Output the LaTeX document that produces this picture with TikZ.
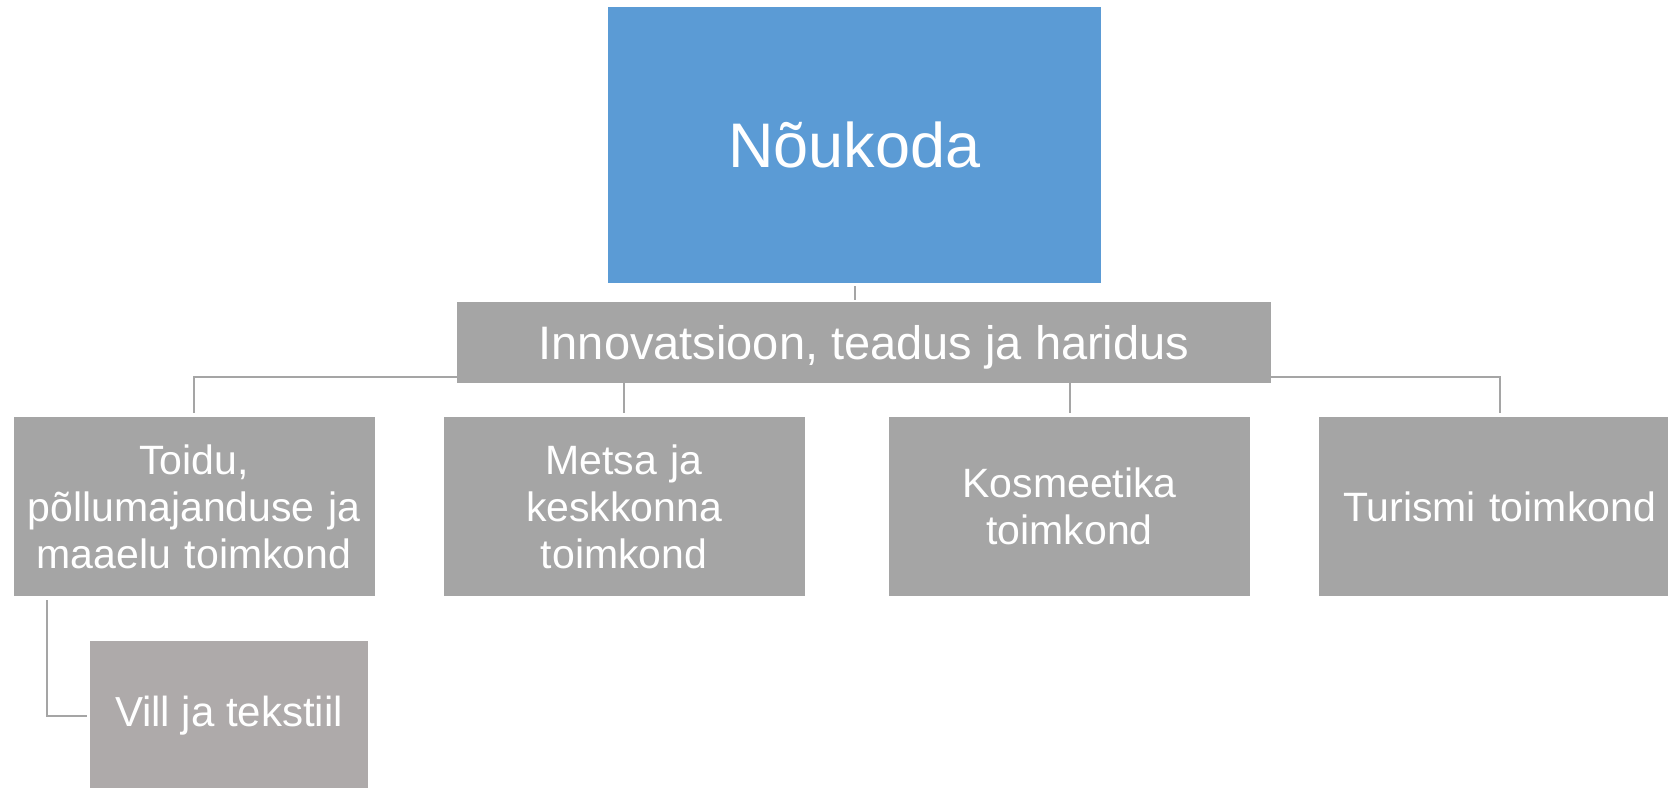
\documentclass[tikz,border=0pt]{standalone}
\usepackage{fontspec}
\setmainfont{Liberation Sans}
\usetikzlibrary{calc}
\definecolor{CouncilBlue}{HTML}{5B9BD5}
\definecolor{BoxGray}{HTML}{A5A5A5}
\definecolor{SubGray}{HTML}{AEAAAA}
\definecolor{LinkGray}{HTML}{A5A5A5}
\newcommand{\ChildW}{180.5pt}
\newcommand{\ChildH}{89.5pt}
\tikzset{Council/.style={
    fill=CouncilBlue,
    text=white,
    inner sep=0pt,
    minimum width=246.5pt,
    minimum height=138pt,
    font={\fontsize{31.5pt}{38pt}\selectfont}
    },
    Branch/.style={
    fill=BoxGray,
    text=white,
    inner sep=0pt,
    text depth=0pt,
    minimum width=407pt,
    minimum height=40.5pt,
    font={\fontsize{23.5pt}{28pt}\selectfont}
    },
    Child/.style={
    fill=BoxGray,
    text=white,
    inner sep=0pt,
    text width=174pt,
    minimum width=\ChildW,
    minimum height=\ChildH,
    align=center,
    font={\fontsize{20.5pt}{23.5pt}\selectfont}
    },
    SubChild/.style={
    fill=SubGray,
    text=white,
    inner sep=0pt,
    minimum width=139pt,
    minimum height=75pt,
    font={\fontsize{21pt}{25pt}\selectfont}
    },
    Link/.style={draw=LinkGray, line width=1pt}
}
\begin{document}
\begin{tikzpicture}[x=0.5pt, y=-0.5pt]
\useasboundingbox (0,0) rectangle (1668,787);
\node [Council] (council) at (854.5,145) {Nõukoda};
\node [Branch] (branch) at (864,342.5) {Innovatsioon, teadus ja haridus};
\coordinate (bus) at (0,377);
\foreach \name/\xpos/\txt in {toidu/194/{Toidu,\\põllumajanduse ja\\maaelu toimkond},
    metsa/624/{Metsa ja\\keskkonna\\toimkond},
    kosmeetika/1069.5/{Kosmeetika\\toimkond},
    turism/1499.5/{Turismi toimkond}} {
\node [Child] (\name) at (\xpos,506.5) {\txt};
}
\node [SubChild] (vill) at (229,716) {Vill ja tekstiil};
% connectors
\draw [Link, shorten <=1.5pt, shorten >=1pt] (council.south) -- (council.south |- branch.north);
\draw [Link, shorten >=2pt] (branch.west |- bus) -| (toidu.north);
\draw [Link, shorten >=2pt] (branch.east |- bus) -| (turism.north);
\draw [Link, shorten >=2pt] (metsa.north |- branch.south) -- (metsa.north);
\draw [Link, shorten >=2pt] (kosmeetika.north |- branch.south) -- (kosmeetika.north);
\draw [Link, shorten <=2pt, shorten >=1.5pt] ([xshift=17pt]toidu.south west) |- (vill.west);
\end{tikzpicture}
\end{document}
